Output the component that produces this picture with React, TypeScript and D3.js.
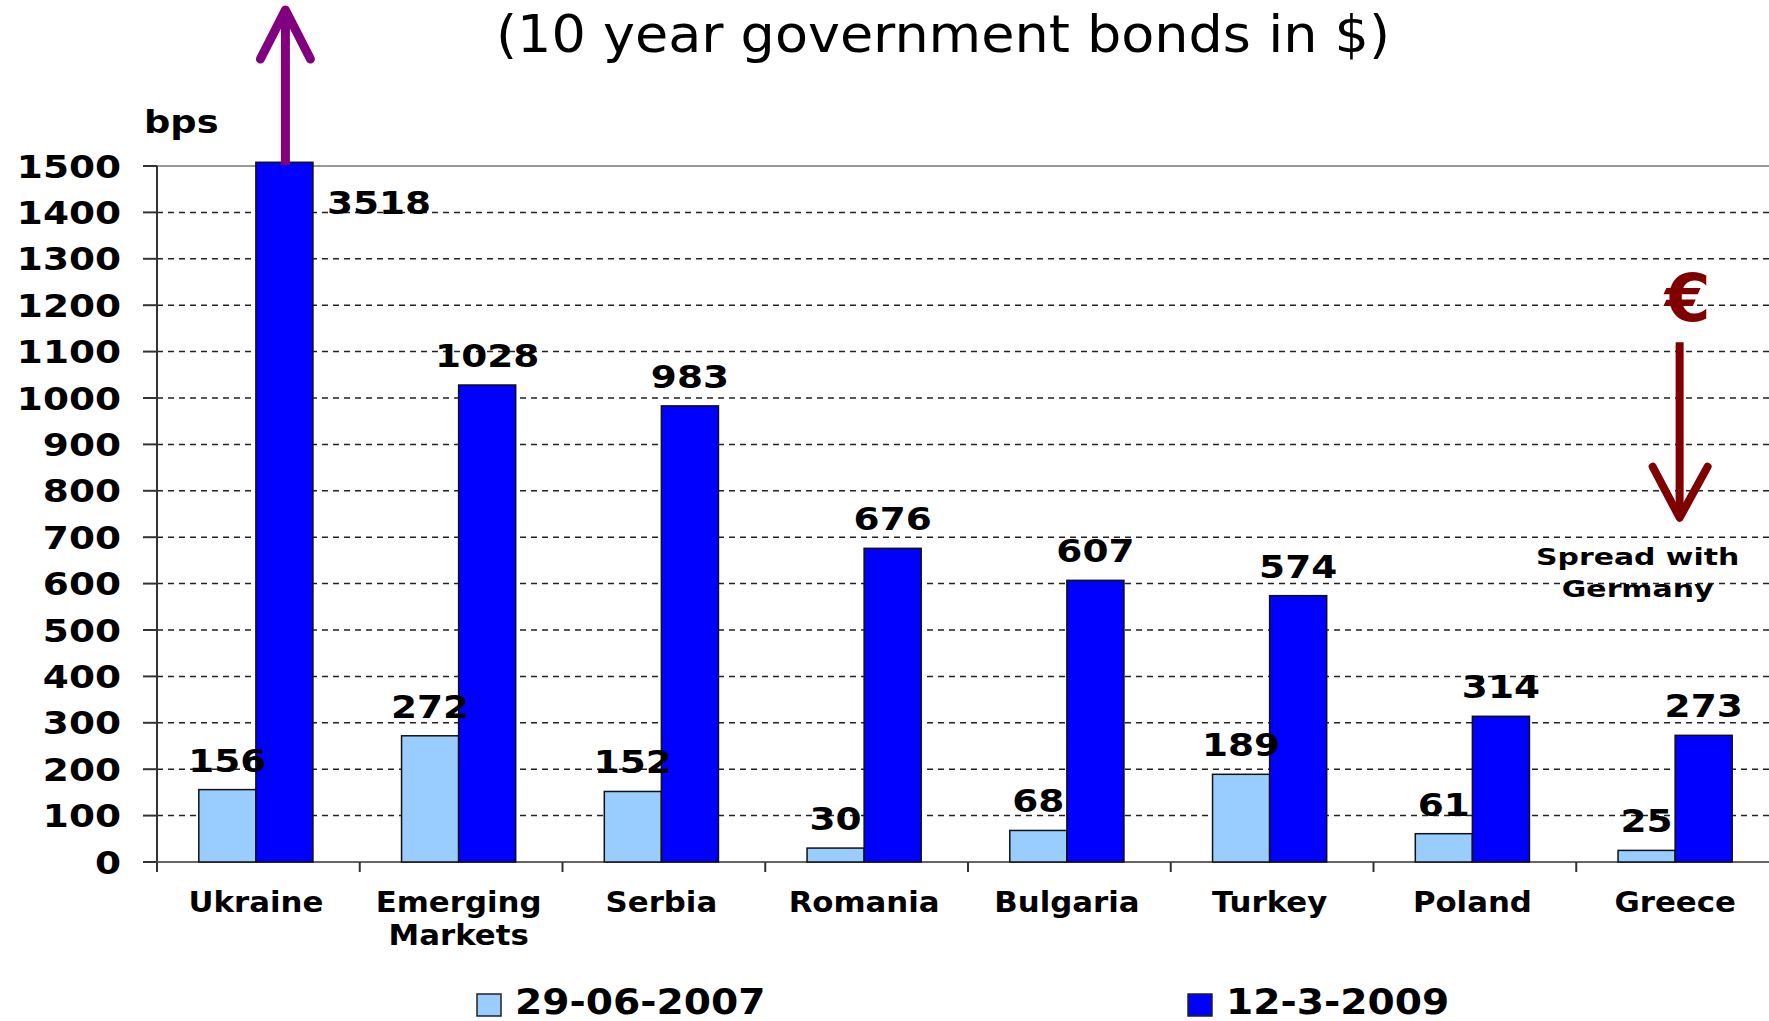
import React from "react";
import * as d3 from "d3";

const categories = ["Ukraine", "Emerging Markets", "Serbia", "Romania", "Bulgaria", "Turkey", "Poland", "Greece"];
const values2007 = [156, 272, 152, 30, 68, 189, 61, 25];
const values2009 = [3518, 1028, 983, 676, 607, 574, 314, 273];
const seriesNames = ["29-06-2007", "12-3-2009"];
const seriesColors = ["#99ccff", "#0000ff"];
const yTickValues = [0, 100, 200, 300, 400, 500, 600, 700, 800, 900, 1000, 1100, 1200, 1300, 1400, 1500];
const yMax = 1500;
const barCap = 1508;
const titleText = "(10 year government bonds in $)";
const unitText = "bps";
const euroText = "€";
const noteLines = ["Spread with", "Germany"];

const W = 1769;
const H = 1021;
const FONT = "'DejaVu Sans', Verdana, sans-serif";

function ST({ x, y, sx = 1, children, ...rest }: any) {
  return (
    <text transform={`translate(${x},${y}) scale(${sx},1)`} {...rest}>
      {children}
    </text>
  );
}

export default function App() {
  const left = 157;
  const step = 202.75;
  const x = d3.scaleBand<string>().domain(categories).range([left, left + step * categories.length]).paddingInner(0).paddingOuter(0);
  const y = d3.scaleLinear().domain([0, yMax]).range([862, 166]);
  const bw = x.bandwidth();
  const barW = bw * 0.2815;
  const shift = -2.5;
  const inner = d3.scaleBand<number>().domain([0, 1]).range([-barW + shift, barW + shift]);

  const series = [values2007, values2009];
  const digitSx = 1.17;

  const greeceC = (x("Greece") as number) + bw / 2;
  const ukraineDarkX = (x("Ukraine") as number) + bw / 2 + (inner(1) as number);

  return (
    <svg width={W} height={H} style={{ position: "absolute", left: 0, top: 0, background: "#fff" }} fontFamily={FONT}>
      <rect x={0} y={0} width={W} height={H} fill="#fff" />
      {/* title */}
      <text x={943} y={52} textAnchor="middle" fontSize={52} fontFamily={FONT} textLength={894} lengthAdjust="spacingAndGlyphs" fill="#000">
        {titleText}
      </text>
      {/* gridlines */}
      {yTickValues.filter((v) => v > 0 && v < yMax).map((v) => (
        <line key={"g" + v} x1={left} x2={W} y1={y(v)} y2={y(v)} stroke="#222" strokeWidth={1.5} strokeDasharray="6,5" />
      ))}
      <line x1={left} x2={W} y1={y(yMax)} y2={y(yMax)} stroke="#999" strokeWidth={2} />
      {/* y axis */}
      <line x1={left} x2={left} y1={y(yMax)} y2={872} stroke="#333" strokeWidth={2} />
      {yTickValues.map((v) => (
        <g key={"t" + v}>
          <line x1={143} x2={left} y1={y(v)} y2={y(v)} stroke="#333" strokeWidth={2} />
          <ST x={121} y={y(v) + 11.5} sx={digitSx} textAnchor="end" fontSize={32} fontWeight={700} fill="#000">
            {v}
          </ST>
        </g>
      ))}
      <ST x={144} y={133} sx={1.15} fontSize={32} fontWeight={700} fill="#000">{unitText}</ST>
      {/* x axis */}
      <line x1={left} x2={W} y1={y(0)} y2={y(0)} stroke="#666" strokeWidth={2} />
      {categories.map((c, i) => (
        <line key={"xt" + i} x1={(x(c) as number)} x2={(x(c) as number)} y1={y(0)} y2={872} stroke="#333" strokeWidth={2} />
      ))}
      {categories.map((c) => {
        const cx = (x(c) as number) + bw / 2 + shift;
        return c.split(" ").map((ln, j) => (
          <ST key={c + j} x={cx} y={912 + j * 33} sx={1.1} textAnchor="middle" fontSize={28} fontWeight={700} fill="#000">
            {ln}
          </ST>
        ));
      })}
      {/* bars */}
      {categories.map((c, i) => {
        const cx = (x(c) as number) + bw / 2;
        return series.map((vals, s) => {
          const v = Math.min(vals[i], barCap);
          const bx = cx + (inner(s) as number);
          return (
            <rect key={c + s} x={bx} y={y(v)} width={barW} height={y(0) - y(v)} fill={seriesColors[s]} stroke="#111" strokeWidth={1.5} />
          );
        });
      })}
      {/* value labels */}
      {categories.map((c, i) => {
        const cx = (x(c) as number) + bw / 2;
        return series.map((vals, s) => {
          const v = vals[i];
          if (v > yMax) {
            return (
              <ST key={"l" + c + s} x={cx + (inner(s) as number) + barW + 14} y={y(1396)} sx={digitSx} fontSize={32} fontWeight={700} fill="#000">
                {v}
              </ST>
            );
          }
          const lx = cx + (inner(s) as number) + barW / 2;
          return (
            <ST key={"l" + c + s} x={lx} y={y(v) - 18} sx={digitSx} textAnchor="middle" fontSize={32} fontWeight={700} fill="#000">
              {v}
            </ST>
          );
        });
      })}
      {/* purple arrow over clipped bar */}
      <g stroke="#800080" strokeWidth={9} strokeLinecap="round" strokeLinejoin="round" fill="none">
        <line x1={ukraineDarkX + barW / 2 + 1} x2={ukraineDarkX + barW / 2 + 1} y1={y(yMax) - 1} y2={10} strokeLinecap="butt" />
        <polyline points={`${ukraineDarkX + barW / 2 - 24},59 ${ukraineDarkX + barW / 2 + 1},10 ${ukraineDarkX + barW / 2 + 26},59`} />
      </g>
      {/* euro annotation */}
      <text x={greeceC + 10} y={y(1165)} textAnchor="middle" fontSize={66} fontWeight={700} fill="#800000">{euroText}</text>
      <g stroke="#800000" strokeWidth={8} strokeLinecap="round" strokeLinejoin="round" fill="none">
        <line x1={greeceC + 2} x2={greeceC + 2} y1={y(1120)} y2={y(745)} strokeLinecap="butt" />
        <polyline points={`${greeceC - 25},${y(852)} ${greeceC + 2},${y(742)} ${greeceC + 30},${y(852)}`} />
      </g>
      {noteLines.map((t, j) => (
        <ST key={"n" + j} x={greeceC - 40} y={565 + j * 32} sx={1.3} textAnchor="middle" fontSize={23} fontWeight={700} fill="#000">
          {t}
        </ST>
      ))}
      {/* legend */}
      {seriesNames.map((n, s) => {
        const lx = s === 0 ? 477 : 1188;
        return (
          <g key={"lg" + s}>
            <rect x={lx} y={994} width={24} height={22} fill={seriesColors[s]} stroke="#222" strokeWidth={1.5} />
            <ST x={lx + 38} y={1014} sx={1.12} fontSize={35} fontWeight={700} fill="#000">{n}</ST>
          </g>
        );
      })}
    </svg>
  );
}
